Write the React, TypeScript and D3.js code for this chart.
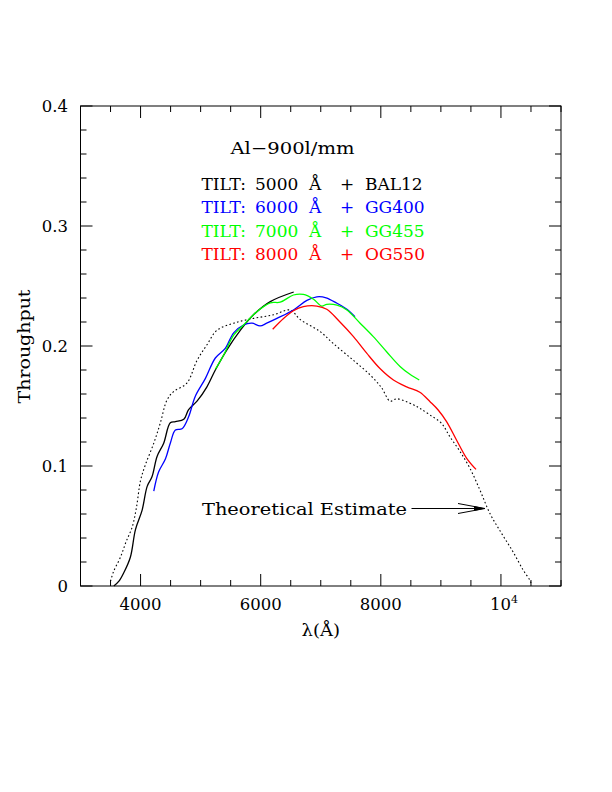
import React from "react";
import * as d3 from "d3";

type P = [number, number];

const theoretical: P[] = [
  [3500, 0.004], [3550, 0.012], [3665, 0.024], [3760, 0.037], [3860, 0.049], [3930, 0.065],
  [4000, 0.088], [4080, 0.101], [4220, 0.119], [4330, 0.136], [4440, 0.155], [4550, 0.162],
  [4770, 0.169], [4940, 0.188], [5105, 0.201], [5270, 0.213], [5550, 0.219], [5880, 0.223],
  [6215, 0.226], [6490, 0.230], [6660, 0.222], [6990, 0.212], [7210, 0.202], [7545, 0.188],
  [7820, 0.176], [8015, 0.165], [8155, 0.154], [8265, 0.156], [8540, 0.151], [8650, 0.148],
  [8820, 0.1425], [9010, 0.1356], [9150, 0.1244], [9320, 0.112], [9485, 0.098], [9650, 0.080],
  [9815, 0.0606], [10010, 0.0439], [10200, 0.0286], [10370, 0.0133], [10480, 0.005], [10510, 0.001],
];

const tilt5000: P[] = [
  [3555, 0.0], [3640, 0.004], [3720, 0.011], [3830, 0.024], [3915, 0.047], [4025, 0.063],
  [4110, 0.083], [4190, 0.091], [4275, 0.108], [4385, 0.119], [4495, 0.136], [4580, 0.137],
  [4720, 0.139], [4800, 0.147], [4940, 0.154], [5105, 0.166], [5245, 0.18], [5440, 0.197],
  [5660, 0.213], [5880, 0.226], [6160, 0.237], [6550, 0.245],
];

const tilt6000: P[] = [
  [4220, 0.079], [4300, 0.095], [4415, 0.106], [4495, 0.119], [4580, 0.13], [4690, 0.131],
  [4800, 0.141], [4910, 0.158], [5080, 0.173], [5245, 0.19], [5410, 0.198], [5550, 0.211],
  [5715, 0.2175], [5855, 0.219], [5990, 0.2167], [6100, 0.219], [6270, 0.223], [6545, 0.23],
  [6770, 0.238], [6935, 0.241], [7090, 0.2402], [7270, 0.2356], [7435, 0.2306], [7570, 0.2244],
];

const tilt7000: P[] = [
  [5245, 0.1806], [5385, 0.1925], [5550, 0.209], [5715, 0.2175], [5935, 0.2286], [6160, 0.236],
  [6325, 0.2365], [6545, 0.2425], [6710, 0.243], [6880, 0.239], [7015, 0.2333], [7100, 0.2347],
  [7270, 0.234], [7435, 0.23], [7655, 0.219], [7875, 0.2078], [8100, 0.195], [8320, 0.183],
  [8485, 0.1764], [8640, 0.1717],
];

const tilt8000: P[] = [
  [6200, 0.214], [6380, 0.223], [6545, 0.2294], [6710, 0.2328], [6935, 0.2333], [7100, 0.2306],
  [7320, 0.22], [7545, 0.2078], [7765, 0.194], [7990, 0.181], [8210, 0.1717], [8430, 0.166],
  [8650, 0.1615], [8820, 0.1536], [8955, 0.1467], [9095, 0.137], [9260, 0.1217], [9430, 0.1064],
  [9585, 0.0972],
];

const xMajorTicks = [4000, 6000, 8000, 10000];
const xTickLabels = ["4000", "6000", "8000", "10"];
const yMajorTicks = [0, 0.1, 0.2, 0.3, 0.4];
const yTickLabels = ["0", "0.1", "0.2", "0.3", "0.4"];

const legendRows = [
  { tilt: "5000", filter: "BAL12", color: "#000000" },
  { tilt: "6000", filter: "GG400", color: "#0000ff" },
  { tilt: "7000", filter: "GG455", color: "#00ff00" },
  { tilt: "8000", filter: "OG550", color: "#ff0000" },
];

const W = 612, H = 792;
const L = 80.5, R = 561, T = 106, B = 586;
const FONT = "'DejaVu Serif', 'Liberation Serif', serif";

export default function App() {
  const x = d3.scaleLinear().domain([3000, 11000]).range([L, R]);
  const y = d3.scaleLinear().domain([0, 0.4]).range([B, T]);
  const line = d3.line<P>().x((d) => x(d[0])).y((d) => y(d[1])).curve(d3.curveCatmullRom);

  const xMinor = d3.range(3000, 11001, 500);
  const yMinor = d3.range(0, 0.4001, 0.02);

  const series = [
    { data: tilt5000, color: "#000000" },
    { data: tilt6000, color: "#0000ff" },
    { data: tilt7000, color: "#00ff00" },
    { data: tilt8000, color: "#ff0000" },
  ];

  const isMajorX = (v: number) => Math.abs(v % 2000) < 1e-6;
  const isMajorY = (v: number) => Math.abs(Math.round(v * 10) - v * 10) < 1e-6;

  const ticks: any[] = [];
  xMinor.forEach((v, i) => {
    const len = isMajorX(v) ? 12 : 6;
    ticks.push(<line key={"xb" + i} x1={x(v)} x2={x(v)} y1={B} y2={B - len} />);
    ticks.push(<line key={"xt" + i} x1={x(v)} x2={x(v)} y1={T} y2={T + len} />);
  });
  yMinor.forEach((v, i) => {
    const len = isMajorY(v) ? 12 : 6;
    ticks.push(<line key={"yl" + i} x1={L} x2={L + len} y1={y(v)} y2={y(v)} />);
    ticks.push(<line key={"yr" + i} x1={R} x2={R - len} y1={y(v)} y2={y(v)} />);
  });

  const arrowY = 508.5;
  const textY0 = 189.5;
  const rowGap = 23.6;

  return (
    <svg
      width={W}
      height={H}
      viewBox={`0 0 ${W} ${H}`}
      style={{ position: "absolute", left: 0, top: 0, background: "#fff" }}
      fontFamily={FONT}
    >
      <rect x={0} y={0} width={W} height={H} fill="#fff" />
      <g stroke="#000" strokeWidth={1} fill="none">
        <rect x={L} y={T} width={R - L} height={B - T} />
        {ticks}
      </g>

      {yMajorTicks.map((v, i) => (
        <text key={"yl" + i} x={68} y={y(v) + 6} textAnchor="end" fontSize={16.5} fill="#000">
          {yTickLabels[i]}
        </text>
      ))}
      {xMajorTicks.map((v, i) =>
        v === 10000 ? (
          <text key={"xl" + i} x={x(v) - 11} y={610} fontSize={16.5} fill="#000">
            {xTickLabels[i]}
            <tspan dy={-7} fontSize={11}>4</tspan>
          </text>
        ) : (
          <text key={"xl" + i} x={x(v)} y={610} textAnchor="middle" fontSize={16.5} fill="#000">
            {xTickLabels[i]}
          </text>
        )
      )}

      <text x={301.5} y={636} fontSize={17} fill="#000" textLength={38.5} lengthAdjust="spacingAndGlyphs">
        λ(Å)
      </text>
      <text
        transform={`translate(29.5,403.5) rotate(-90)`}
        fontSize={17}
        fill="#000"
        textLength={114}
        lengthAdjust="spacingAndGlyphs"
      >
        Throughput
      </text>

      <path
        d={line(theoretical) || ""}
        fill="none"
        stroke="#000"
        strokeWidth={1.1}
        strokeDasharray="1.6,2.4"
      />
      {series.map((s, i) => (
        <path key={i} d={line(s.data) || ""} fill="none" stroke={s.color} strokeWidth={1.3} />
      ))}

      <text x={230.5} y={154} fontSize={17} fill="#000" textLength={124} lengthAdjust="spacingAndGlyphs">
        Al−900l/mm
      </text>
      {legendRows.map((r, i) => {
        const yy = textY0 + i * rowGap;
        return (
          <text key={"lg" + i} y={yy} fontSize={17} fill={r.color}>
            <tspan x={201.5}>TILT:</tspan>
            <tspan x={255}>{r.tilt}</tspan>
            <tspan x={309}>Å</tspan>
            <tspan x={340}>+</tspan>
            <tspan x={365}>{r.filter}</tspan>
          </text>
        );
      })}

      <text x={202} y={514.5} fontSize={17} fill="#000" textLength={205} lengthAdjust="spacingAndGlyphs">
        Theoretical Estimate
      </text>
      <g stroke="#000" strokeWidth={1} fill="none">
        <line x1={411.5} x2={485} y1={arrowY} y2={arrowY} />
        <polyline points={`458,503.5 485,${arrowY} 458,513.5`} />
      </g>
      <polygon points={`474,506 485,${arrowY} 474,511`} fill="#000" />
    </svg>
  );
}
